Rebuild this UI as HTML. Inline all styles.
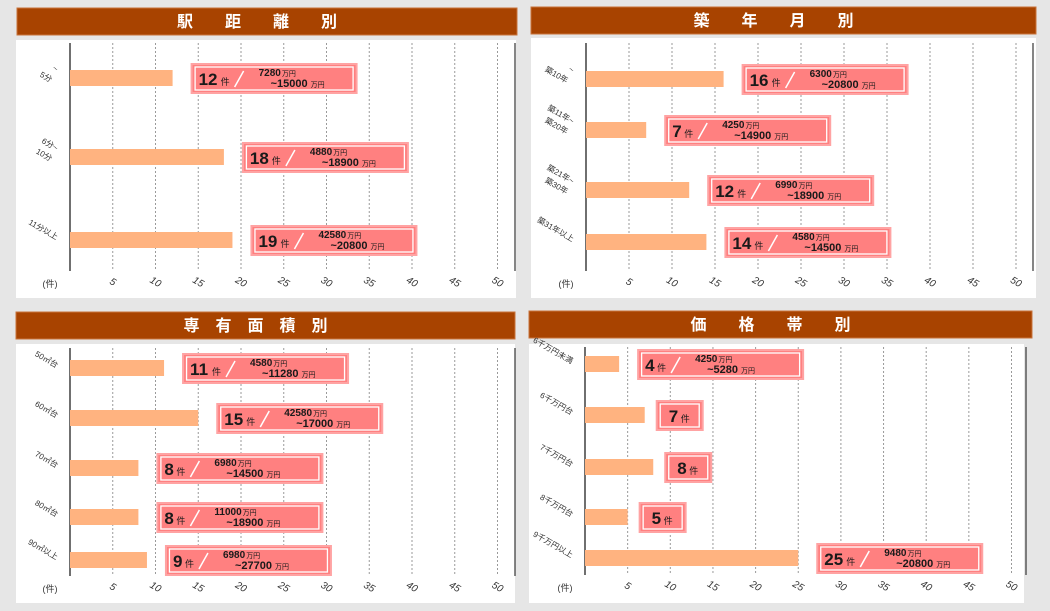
<!DOCTYPE html>
<html><head><meta charset="utf-8">
<style>
html,body{margin:0;padding:0;background:#e6e6e6;}
svg{display:block;font-family:"Liberation Sans","Noto Sans CJK JP",sans-serif;}
</style></head>
<body>
<svg id="chart" width="1050" height="611" viewBox="0 0 1050 611" xmlns="http://www.w3.org/2000/svg">
<rect x="0" y="0" width="1050" height="611" fill="#e6e6e6"/>
</svg>
<script>
// ---- data ----
const distCats = ["~\n5分", "6分~\n10分", "11分以上"];
const distVals = [12, 18, 19];
const distLow = ["7280", "4880", "42580"];
const distHigh = ["15000", "18900", "20800"];

const ageCats = ["~\n築10年", "築11年~\n築20年", "築21年~\n築30年", "築31年以上"];
const ageVals = [16, 7, 12, 14];
const ageLow = ["6300", "4250", "6990", "4580"];
const ageHigh = ["20800", "14900", "18900", "14500"];

const areaCats = ["50㎡台", "60㎡台", "70㎡台", "80㎡台", "90㎡以上"];
const areaVals = [11, 15, 8, 8, 9];
const areaLow = ["4580", "42580", "6980", "11000", "6980"];
const areaHigh = ["11280", "17000", "14500", "18900", "27700"];

const priceCats = ["6千万円未満", "6千万円台", "7千万円台", "8千万円台", "9千万円以上"];
const priceVals = [4, 7, 8, 5, 25];
const priceLow = ["4250", "", "", "", "9480"];
const priceHigh = ["5280", "", "", "", "20800"];

const tickLabels = [5, 10, 15, 20, 25, 30, 35, 40, 45, 50];

const NS = "http://www.w3.org/2000/svg";
const svg = document.getElementById("chart");
function mk(tag, attrs, parent) {
  const e = document.createElementNS(NS, tag);
  for (const k in attrs) e.setAttribute(k, attrs[k]);
  (parent || svg).appendChild(e);
  return e;
}

function panel(cfg, title, cats, vals, lows, highs) {
  const g = mk("g", {});
  
  
  // header
  const hdr = mk("rect", {x: cfg.hx, y: cfg.hy, width: cfg.hw, height: 27, fill: "#a84300", stroke: "#c8733a", "stroke-width": 1}, g);
  
  
  const ht = mk("text", {x: cfg.hx + cfg.hw / 2 - 10, y: cfg.hy + 19, "text-anchor": "middle", fill: "#fff", "font-size": 16, "font-weight": "bold", "letter-spacing": "0"}, g);
  ht.textContent = title;
  
  
  // plot bg
  const bg = mk("rect", {x: cfg.px, y: cfg.py, width: cfg.pw, height: cfg.ph, fill: "#fff"}, g);
  
  
  const x = v => cfg.x0 + v * cfg.k;
  // grid
  tickLabels.forEach(t => {
    const gl = mk("line", {x1: x(t), x2: x(t), y1: cfg.ay0, y2: cfg.ay1, stroke: "#9a9a9a", "stroke-width": 1, "stroke-dasharray": "2,2"}, g);
    
    
    const tl = mk("text", {x: x(t), y: cfg.ay1 + 14, "text-anchor": "middle", "font-size": 10, "font-style": "italic", fill: "#333", transform: `rotate(30 ${x(t)} ${cfg.ay1 + 11})`}, g);
    tl.textContent = t;
    
    
  });
  const unit = mk("text", {x: cfg.x0 - 20, y: cfg.ay1 + 16, "text-anchor": "middle", "font-size": 9, fill: "#333"}, g);
  unit.textContent = "(件)";
  
  
  // axes
  const ax = mk("line", {x1: cfg.x0, x2: cfg.x0, y1: cfg.ay0, y2: cfg.ay1, stroke: "#222", "stroke-width": 1.3}, g);
  
  
  const rl = mk("line", {x1: cfg.rx, x2: cfg.rx, y1: cfg.ay0, y2: cfg.ay1, stroke: "#444", "stroke-width": 1.3}, g);
  
  
  // bars
  vals.forEach((v, i) => {
    const cy = cfg.cys[i];
    const b = mk("rect", {x: cfg.x0, y: cy - 8, width: x(v) - cfg.x0, height: 16, fill: "#ffb380"}, g);
    
    
    // category label
    const lines = cats[i].split("\n");
    const lx = cfg.x0 - 14, ly = cy - (lines.length - 1) * 6;
    const cl = mk("text", {x: lx, y: ly, "text-anchor": "end", "font-size": 8, fill: "#333", transform: `rotate(30 ${lx} ${ly})`}, g);
    
    
    lines.forEach((ln, j) => {
      const ts = mk("tspan", {x: lx, dy: j === 0 ? 0 : 12}, cl);
      ts.textContent = ln;
    });
    // label box
    const hasPrice = lows[i] !== "";
    const bw = hasPrice ? 165 : 46;
    const bx = x(v) + (hasPrice ? 19 : 12);
    const by = cy - 14, bh = 29;
    const box = mk("g", {}, g);
    
    
    mk("rect", {x: bx, y: by, width: bw, height: bh, fill: "#ff8080", stroke: "#ffa3a3", "stroke-width": 2}, box);
    mk("rect", {x: bx + 3.5, y: by + 3, width: bw - 7, height: bh - 6, fill: "none", stroke: "#fff", "stroke-width": 1.3}, box);
    const num = mk("text", {x: hasPrice ? bx + 7 : bx + 12, y: by + 21, "font-size": 17, "font-weight": "bold", fill: "#1a1a1a"}, box);
    num.textContent = v;
    const nw = String(v).length * 10;
    const ken = mk("text", {x: (hasPrice ? bx + 7 : bx + 12) + nw + 2, y: by + 21, "font-size": 9, fill: "#1a1a1a"}, box);
    ken.textContent = "件";
    if (hasPrice) {
      const sx = bx + 7 + nw + 16;
      mk("line", {x1: sx, y1: by + 23, x2: sx + 9, y2: by + 7, stroke: "#fff", "stroke-width": 1.5}, box);
      const p1 = mk("text", {x: sx + 24, y: by + 12, "font-size": 10, "font-weight": "bold", fill: "#1a1a1a"}, box);
      p1.textContent = lows[i];
      const u1 = mk("tspan", {"font-size": 7, "font-weight": "normal", dx: 1}, p1);
      u1.textContent = "万円";
      const p2 = mk("text", {x: sx + 36, y: by + 23, "font-size": 11, "font-weight": "bold", fill: "#1a1a1a"}, box);
      p2.textContent = "~" + highs[i];
      const u2 = mk("tspan", {"font-size": 7, "font-weight": "normal", dx: 3}, p2);
      u2.textContent = "万円";
    }
  });
}

panel({name: "station-distance-panel", hx: 17, hy: 8, hw: 500, px: 16, py: 40, pw: 500, ph: 258, x0: 70, k: 8.55, ay0: 43, ay1: 271, rx: 515, cys: [78, 157, 240]},
  "駅　　距　　離　　別", distCats, distVals, distLow, distHigh);
panel({name: "building-age-panel", hx: 531, hy: 7, hw: 505, px: 531, py: 38, pw: 505, ph: 260, x0: 586, k: 8.6, ay0: 43, ay1: 271, rx: 1033, cys: [79, 130, 190, 242]},
  "築　　年　　月　　別", ageCats, ageVals, ageLow, ageHigh);
panel({name: "floor-area-panel", hx: 16, hy: 312, hw: 499, px: 16, py: 344, pw: 499, ph: 259, x0: 70, k: 8.55, ay0: 348, ay1: 576, rx: 515, cys: [368, 418, 468, 517, 560]},
  "専　有　面　積　別", areaCats, areaVals, areaLow, areaHigh);
panel({name: "price-range-panel", hx: 529, hy: 311, hw: 503, px: 529, py: 344, pw: 495, ph: 259, x0: 585, k: 8.53, ay0: 347, ay1: 575, rx: 1026, cys: [364, 415, 467, 517, 558]},
  "価　　格　　帯　　別", priceCats, priceVals, priceLow, priceHigh);
</script>
</body></html>
